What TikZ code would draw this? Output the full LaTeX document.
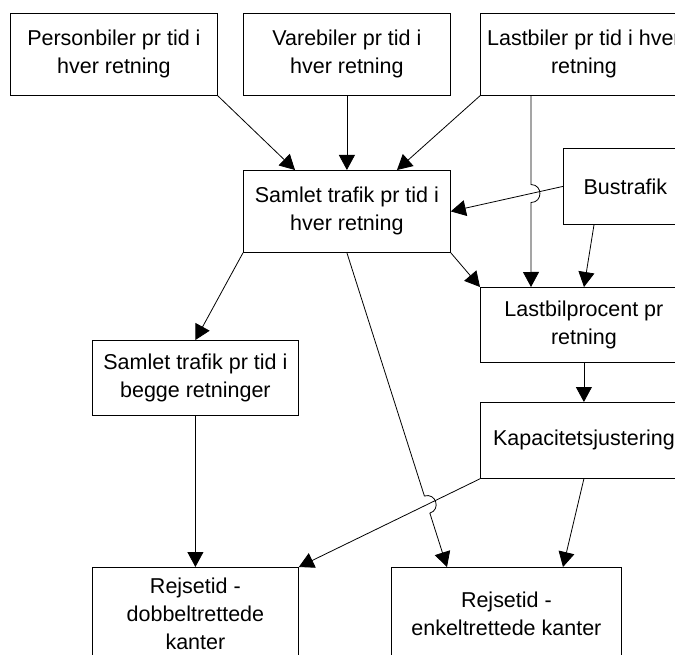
\documentclass[tikz,border=0pt]{standalone}
\usepackage{fontspec}
\setmainfont{Liberation Sans}
\usetikzlibrary{arrows.meta,calc}
\tikzset{
  box/.style={draw, line width=0.8pt, align=center, inner sep=0pt, anchor=north west,
    font=\fontsize{21.5}{28}\selectfont},
  arr/.style={line width=0.8pt, -{Triangle[length=15pt,width=16pt]}},
  hop/.style={bend left=90, looseness=1.7}
}
\begin{document}
\begin{tikzpicture}[x=1pt,y=-1pt]
\useasboundingbox (0,0) rectangle (675,655);
\fill[white] (0,0) rectangle (675,655);
\clip (0,0) rectangle (675,655);
% boxes
\node[box, minimum width=207pt, minimum height=82pt] (pers) at (10,13) {Personbiler pr tid i\\hver retning};
\node[box, minimum width=207pt, minimum height=82pt] (vare) at (243,13) {Varebiler pr tid i\\hver retning};
\node[box, minimum width=207pt, minimum height=82pt] (last) at (480,13) {Lastbiler pr tid i hver\\retning};
\node[box, minimum width=207pt, minimum height=82pt] (samh) at (243,170) {Samlet trafik pr tid i\\hver retning};
\node[box, minimum width=124pt, minimum height=76pt] (bus) at (563,148) {Bustrafik};
\node[box, minimum width=207pt, minimum height=75pt] (lbp) at (480,287) {Lastbilprocent pr\\retning};
\node[box, minimum width=206pt, minimum height=75pt] (samb) at (92,340) {Samlet trafik pr tid i\\begge retninger};
\node[box, minimum width=207pt, minimum height=76pt] (kap) at (480,402) {Kapacitetsjustering};
\node[box, minimum width=206pt, minimum height=92pt] (dob) at (92,567) {Rejsetid -\\dobbeltrettede\\kanter};
\node[box, minimum width=230pt, minimum height=92pt] (enk) at (391,567) {Rejsetid -\\enkeltrettede kanter};
% simple arrows
\draw[arr] (pers.south east) -- ($(samh.north west)+(52,0)$);
\draw[arr] (vare.south) -- (samh.north);
\draw[arr] (last.south west) -- ($(samh.north west)+(154,0)$);
\draw[arr] (bus.west) -- (samh.east);
\draw[arr] ($(bus.south west)+(31,0)$) -- ($(lbp.north west)+(104,0)$);
\draw[arr] (samh.south east) -- (lbp.north west);
\draw[arr] (samh.south west) -- (samb.north);
\draw[arr] (lbp.south) -- (kap.north);
\draw[arr] (kap.south west) -- (dob.north east);
\draw[arr] (kap.south) -- ($(enk.north west)+(172,0)$);
\draw[arr] (samb.south) -- (dob.north);
% arrows with hops
\coordinate (ls) at ($(last.south west)+(51,0)$);
\coordinate (le) at ($(lbp.north west)+(51,0)$);
\coordinate (i1) at (intersection of ls--le and bus.west--samh.east);
\draw[arr] (ls) -- ($(i1)!9pt!(ls)$) to[hop] ($(i1)!9pt!(le)$) -- (le);
\coordinate (ss) at (samh.south);
\coordinate (se) at ($(enk.north west)+(56,0)$);
\coordinate (ka) at (kap.south west);
\coordinate (db) at (dob.north east);
\coordinate (i2) at (intersection of ss--se and ka--db);
\draw[arr] (ss) -- ($(i2)!9pt!(ss)$) to[hop] ($(i2)!9pt!(se)$) -- (se);
\end{tikzpicture}
\end{document}
